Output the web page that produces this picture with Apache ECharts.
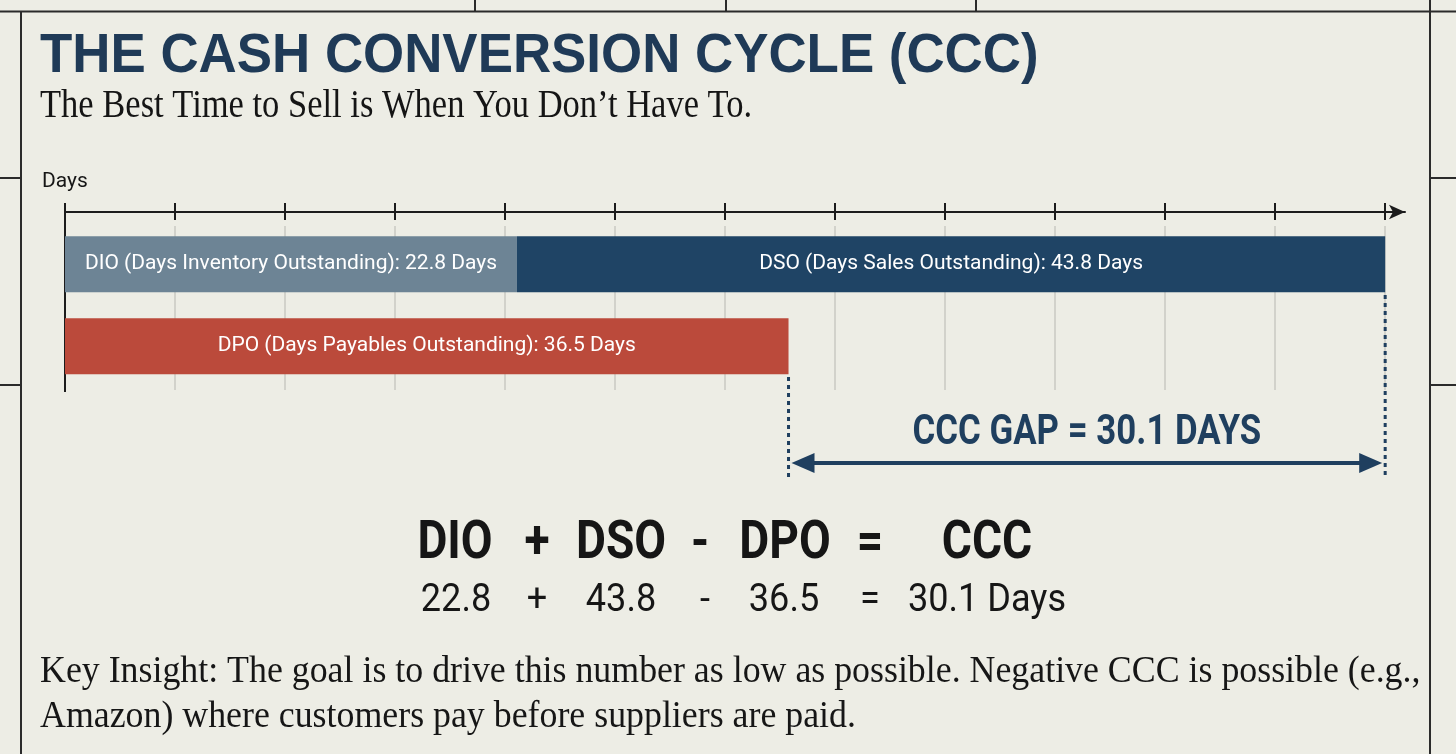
<!DOCTYPE html>
<html>
<head>
<meta charset="utf-8">
<title>The Cash Conversion Cycle (CCC)</title>
<script src="https://cdn.jsdelivr.net/npm/echarts@6/dist/echarts.min.js"></script>
<style>
html, body { margin: 0; padding: 0; background: #edede5; }
#main { width: 1456px; height: 754px; }
</style>
</head>
<body>
<div id="main"></div>
<script>
// --- data ---
const codes = ['DIO', 'DSO', 'DPO'];
const names = ['Days Inventory Outstanding', 'Days Sales Outstanding', 'Days Payables Outstanding'];
const days = [22.8, 43.8, 36.5];
const rows = ['DIO + DSO', 'DPO'];
const tickDays = [0, 5.55, 11.1, 16.65, 22.2, 27.75, 33.3, 38.85, 44.4, 49.95, 55.5, 61.05, 66.6];
const axisMax = 67.6;
const ccc = Math.round((days[0] + days[1] - days[2]) * 10) / 10;

const colors = ['#6d8495', '#1f4465', '#bb4a3b'];
const SANS = 'Roboto, "Liberation Sans", sans-serif';
const SERIF = '"Liberation Serif", "DejaVu Serif", serif';

function barLabel(i) {
    return {
        show: true,
        position: 'inside',
        color: '#ffffff',
        fontFamily: SANS,
        fontSize: 21,
        formatter: function () {
            return codes[i] + ' (' + names[i] + '): ' + days[i] + ' Days';
        }
    };
}

const option = {
    backgroundColor: '#edede5',
    animation: false,
    grid: { left: 65, right: 51, top: 226, height: 164 },
    xAxis: [
        {
            type: 'value', position: 'top', offset: 14,
            min: 0, max: axisMax,
            axisLine: { show: true, symbol: ['none', 'arrow'], symbolSize: [11, 16],
                lineStyle: { color: '#1c1c1c', width: 2 } },
            axisTick: { show: true, length: 9, customValues: tickDays,
                lineStyle: { color: '#1c1c1c', width: 2 } },
            axisLabel: { show: false },
            splitLine: { show: true, lineStyle: { color: '#c9c9c2', width: 1.5 } }
        },
        {
            type: 'value', position: 'top', offset: 14,
            min: 0, max: axisMax,
            axisLine: { show: false },
            axisTick: { show: true, inside: true, length: 8, customValues: tickDays,
                lineStyle: { color: '#1c1c1c', width: 2 } },
            axisLabel: { show: false },
            splitLine: { show: false }
        }
    ],
    yAxis: {
        type: 'category', inverse: true, data: rows,
        axisLine: { show: false }, axisTick: { show: false }, axisLabel: { show: false }
    },
    series: [
        { name: codes[0], type: 'bar', stack: 'ccc', barWidth: 56,
          itemStyle: { color: colors[0] }, label: barLabel(0), data: [days[0], '-'] },
        { name: codes[1], type: 'bar', stack: 'ccc', barWidth: 56,
          itemStyle: { color: colors[1] }, label: barLabel(1), data: [days[1], '-'] },
        { name: codes[2], type: 'bar', stack: 'ccc', barWidth: 56,
          itemStyle: { color: colors[2] }, label: barLabel(2), data: ['-', days[2]] },
        { type: 'bar', xAxisIndex: 1, data: [] }
    ]
};

const chart = echarts.init(document.getElementById('main'));
chart.setOption(option);

// --- annotations placed through the axis scales ---
const px = v => chart.convertToPixel({ xAxisIndex: 0 }, v);
const py = c => chart.convertToPixel({ yAxisIndex: 0 }, c);
const barH = 56;
const x0 = px(0);
const xDpo = px(days[2]);
const xEnd = px(days[0] + days[1]);
const gapY = 463;
const navy = '#1f3f5f';
const ink = '#161616';
const frame = '#2b2b2b';

function txt(x, y, text, font, fill, align, sx) {
    return { type: 'text', x: x, y: y, scaleX: sx || 1,
        style: { text: text, font: font, fill: fill, textAlign: align || 'left', textVerticalAlign: 'middle' } };
}
function seg(x1, y1, x2, y2, stroke, w, dash) {
    return { type: 'line', shape: { x1: x1, y1: y1, x2: x2, y2: y2 },
        style: { stroke: stroke, lineWidth: w, lineDash: dash || null } };
}

const g = [];
// frame of the page
g.push(seg(0, 11.5, 1456, 11.5, frame, 2));
g.push(seg(21, 11, 21, 754, frame, 2));
g.push(seg(1430, 0, 1430, 754, frame, 2));
[475, 726, 976].forEach(x => g.push(seg(x, 0, x, 11, frame, 2)));
[178, 385].forEach(y => {
    g.push(seg(0, y, 21, y, frame, 2));
    g.push(seg(1430, y, 1456, y, frame, 2));
});

// titles
g.push(txt(40, 57, 'THE CASH CONVERSION CYCLE (CCC)', 'bold 56px "Liberation Sans", Arial, sans-serif', '#1f3a57', 'left', 0.944));
g.push(txt(40, 107, 'The Best Time to Sell is When You Don\u2019t Have To.', '39px ' + SERIF, '#151515', 'left', 0.885));
g.push(txt(42, 182, 'Days', '21px ' + SANS, ink, 'left'));

// left axis line
g.push(seg(x0, 203, x0, 392, '#1c1c1c', 2));

// gap markers
g.push(seg(xDpo, py(rows[1]) + barH / 2, xDpo, 478, navy, 3, [4, 4]));
g.push(seg(xEnd, py(rows[0]) + barH / 2, xEnd, 478, navy, 3, [4, 4]));
g.push(seg(xDpo + 16, gapY, xEnd - 16, gapY, navy, 4));
g.push({ type: 'polygon', shape: { points: [[xDpo + 3, gapY], [xDpo + 26, gapY - 10], [xDpo + 26, gapY + 10]] },
    style: { fill: navy } });
g.push({ type: 'polygon', shape: { points: [[xEnd - 3, gapY], [xEnd - 26, gapY - 10], [xEnd - 26, gapY + 10]] },
    style: { fill: navy } });
g.push(txt((xDpo + xEnd) / 2, 433, 'CCC GAP = ' + ccc + ' DAYS', 'bold 43px ' + SANS, navy, 'center', 0.81));

// formula
const terms = ['DIO', '+', 'DSO', '-', 'DPO', '=', 'CCC'];
const values = [days[0], '+', days[1], '-', days[2], '=', ccc + ' Days'];
const termX = [455, 537, 621, 700, 785, 870, 987];
const valueX = [456, 537, 621, 705, 784, 870, 987];
terms.forEach((t, i) => g.push(txt(termX[i], 545, t, 'bold 53px ' + SANS, ink, 'center', 0.87)));
values.forEach((v, i) => g.push(txt(valueX[i], 601, String(v), '38px ' + SANS, ink, 'center', 0.95)));

// insight
g.push(txt(40, 672, 'Key Insight: The goal is to drive this number as low as possible. Negative CCC is possible (e.g.,', '38px ' + SERIF, ink, 'left', 0.943));
g.push(txt(40, 717, 'Amazon) where customers pay before suppliers are paid.', '38px ' + SERIF, ink, 'left', 0.943));

chart.setOption({ graphic: g });
</script>
</body>
</html>
